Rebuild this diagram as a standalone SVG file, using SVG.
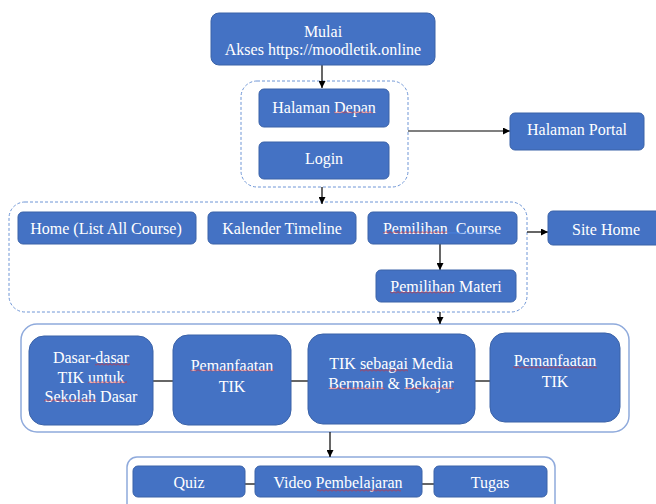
<svg xmlns="http://www.w3.org/2000/svg" width="656" height="504" viewBox="0 0 656 504">
<style>
.box{fill:#4472C4;stroke:#3A62A8;stroke-width:1}
.t{font-family:'Liberation Serif','DejaVu Serif','Times New Roman',serif;font-size:16px;fill:#FFFFFF;text-anchor:middle;dominant-baseline:central}
.dash{fill:none;stroke:#6F96D6;stroke-width:1;stroke-dasharray:3 2}
.solid{fill:none;stroke:#8FAADC;stroke-width:1.5}
.ln{stroke:#000;stroke-width:1.2;fill:none}
.sq{fill:url(#wave)}
</style>
<defs>
<marker id="ah" viewBox="0 0 10 10" refX="10" refY="5" markerWidth="7" markerHeight="7" markerUnits="userSpaceOnUse" orient="auto">
<path d="M0,0 L10,5 L0,10 z" fill="#000"/>
</marker>
<pattern id="wave" x="0" y="0" width="4" height="3" patternUnits="userSpaceOnUse">
<path d="M0,2.5 L2,0.5 L4,2.5" fill="none" stroke="#D92B2B" stroke-width="0.8"/>
</pattern>
</defs>
<rect width="656" height="504" fill="#FFFFFF"/>
<g id="containers">
<rect id="grp1" class="dash" x="241" y="81" width="167" height="106" rx="16"/>
<rect id="grp2" class="dash" x="9" y="202" width="518" height="110" rx="16"/>
<rect id="grp3" class="solid" x="21" y="324" width="608" height="108" rx="16"/>
<rect id="grp4" class="solid" x="127" y="457" width="428" height="60" rx="10"/>
</g>
<g id="connectors">
<line class="ln" x1="322" y1="65" x2="322" y2="88" marker-end="url(#ah)"/>
<line class="ln" x1="408" y1="131" x2="510" y2="131" marker-end="url(#ah)"/>
<line class="ln" x1="322" y1="187" x2="322" y2="204" marker-end="url(#ah)"/>
<line class="ln" x1="527" y1="232" x2="548" y2="232" marker-end="url(#ah)"/>
<line class="ln" x1="440" y1="244" x2="440" y2="270" marker-end="url(#ah)"/>
<line class="ln" x1="440" y1="312" x2="440" y2="324" marker-end="url(#ah)"/>
<line class="ln" x1="330" y1="432" x2="330" y2="457" marker-end="url(#ah)"/>
<line class="ln" x1="153" y1="381" x2="173" y2="381"/>
<line class="ln" x1="291" y1="381" x2="308" y2="381"/>
<line class="ln" x1="475" y1="381" x2="490" y2="381"/>
<line class="ln" x1="245" y1="484" x2="255" y2="484"/>
<line class="ln" x1="422" y1="484" x2="434" y2="484"/>
</g>
<g id="mulai">
<rect class="box" x="211" y="13" width="224" height="52" rx="8"/>
<text class="t" x="323" y="31">Mulai</text>
<text class="t" x="323" y="49">Akses https://moodletik.online</text>
</g>
<g id="halaman-depan">
<rect class="box" x="259" y="89" width="130" height="38" rx="5"/>
<text class="t" x="324" y="107">Halaman Depan</text>
<rect class="sq" x="334" y="111" width="39" height="3"/>
</g>
<g id="login">
<rect class="box" x="259" y="142" width="130" height="37" rx="5"/>
<text class="t" x="324" y="158">Login</text>
</g>
<g id="halaman-portal">
<rect class="box" x="510" y="113" width="134" height="37" rx="5"/>
<text class="t" x="577" y="129">Halaman Portal</text>
</g>
<g id="home">
<rect class="box" x="18" y="212" width="178" height="32" rx="5"/>
<text class="t" x="106" y="228">Home (List All Course)</text>
</g>
<g id="kalender">
<rect class="box" x="208" y="212" width="148" height="32" rx="5"/>
<text class="t" x="282" y="228">Kalender Timeline</text>
</g>
<g id="pemilihan-course">
<rect class="box" x="368" y="212" width="149" height="32" rx="5"/>
<text class="t" x="442" y="228" xml:space="preserve">Pemilihan  Course</text>
<rect class="sq" x="383" y="231" width="64" height="3"/>
<line x1="447" y1="233" x2="499" y2="233" stroke="#4A86E8" stroke-width="0.8"/>
</g>
<g id="site-home">
<rect class="box" x="548" y="211" width="120" height="34" rx="5"/>
<text class="t" x="606" y="229">Site Home</text>
</g>
<g id="pemilihan-materi">
<rect class="box" x="376" y="270" width="140" height="32" rx="5"/>
<text class="t" x="446" y="286">Pemilihan Materi</text>
<rect class="sq" x="390" y="291" width="64" height="3"/>
</g>
<g id="dasar">
<rect class="box" x="29" y="336" width="124" height="89" rx="15"/>
<text class="t" x="91" y="357">Dasar-dasar</text>
<text class="t" x="91" y="377">TIK untuk</text>
<text class="t" x="91" y="396">Sekolah Dasar</text>
<rect class="sq" x="95" y="363" width="35" height="3"/>
<rect class="sq" x="88" y="381" width="39" height="3"/>
<rect class="sq" x="44" y="399" width="52" height="3"/>
</g>
<g id="pemanfaatan1">
<rect class="box" x="173" y="335" width="118" height="90" rx="15"/>
<text class="t" x="232" y="365">Pemanfaatan</text>
<text class="t" x="232" y="386">TIK</text>
<rect class="sq" x="190" y="369" width="84" height="3"/>
</g>
<g id="tik-media">
<rect class="box" x="308" y="334" width="167" height="90" rx="15"/>
<text class="t" x="391" y="363">TIK sebagai Media</text>
<text class="t" x="391" y="383">Bermain &amp; Bekajar</text>
<rect class="sq" x="360" y="369" width="48" height="3"/>
<rect class="sq" x="329" y="387" width="56" height="3"/>
<rect class="sq" x="405" y="387" width="49" height="3"/>
</g>
<g id="pemanfaatan2">
<rect class="box" x="490" y="333" width="130" height="89" rx="15"/>
<text class="t" x="555" y="360">Pemanfaatan</text>
<text class="t" x="555" y="381">TIK</text>
<rect class="sq" x="513" y="366" width="84" height="3"/>
</g>
<g id="quiz">
<rect class="box" x="133" y="466" width="112" height="31" rx="5"/>
<text class="t" x="189" y="482">Quiz</text>
</g>
<g id="video">
<rect class="box" x="255" y="466" width="167" height="31" rx="5"/>
<text class="t" x="338" y="482">Video Pembelajaran</text>
<rect class="sq" x="317" y="489" width="84" height="3"/>
</g>
<g id="tugas">
<rect class="box" x="434" y="466" width="113" height="31" rx="5"/>
<text class="t" x="490" y="482">Tugas</text>
</g>
</svg>
